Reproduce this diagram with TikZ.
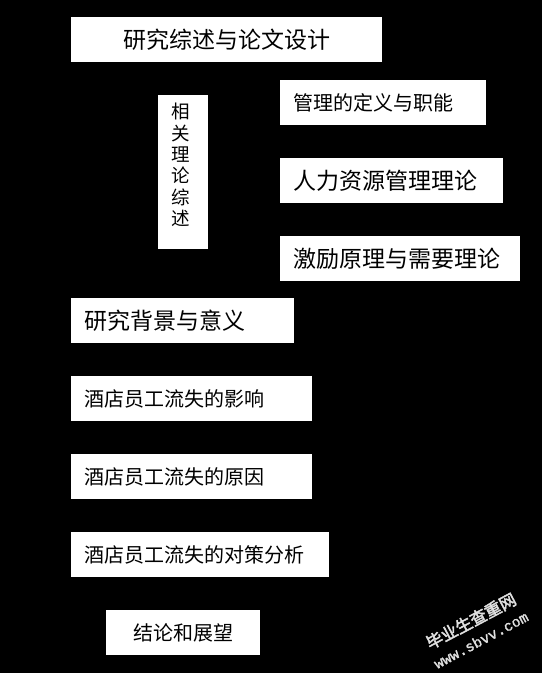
\documentclass[tikz,border=0pt]{standalone}
\usepackage{fontspec}
\newfontfamily\cjk{Noto Sans CJK SC}
\newfontfamily\cjkb[FakeBold=2.5]{Noto Sans CJK SC}
\newfontfamily\wmmono[FakeBold=1.5]{Liberation Mono}
\tikzset{
  box/.style={fill=white, draw=none, anchor=north west, inner ysep=0pt, text=black, minimum height=#1},
  box/.default=45pt,
  bigtxt/.style={font=\cjk\fontsize{23}{23}\selectfont},
  smalltxt/.style={font=\cjk\fontsize{20}{20}\selectfont},
  leftbox/.style 2 args={box=44.5pt, align=left, inner xsep=13.5pt, text width=#1-27pt, minimum width=#1, #2},
  wmark/.style={text=white!88!black, rotate=28}
}
\begin{document}
\begin{tikzpicture}[x=1pt,y=-1pt]
\useasboundingbox[fill=black] (0,0) rectangle (542,673);
% top title
\node[box=45pt, bigtxt, minimum width=311pt, align=center] (design) at (71,17) {研究综述与论文设计};
% vertical label box
\node[box=154pt, minimum width=50pt] (theorybox) at (158,95) {};
\node[font=\cjk\fontsize{18.5}{21.4}\selectfont, align=center, inner sep=0pt, text=black] (theory) at (180.5,165) {相\\关\\理\\论\\综\\述};
% theory boxes
\node[leftbox={206pt}{smalltxt}] (mgmt) at (280,80) {管理的定义与职能};
\node[leftbox={223pt}{bigtxt}] (hrm) at (280,158) {人力资源管理理论};
\node[leftbox={240pt}{bigtxt}] (motive) at (280,236) {激励原理与需要理论};
% main column
\node[leftbox={223pt}{bigtxt}] (bg) at (71,298) {研究背景与意义};
\node[leftbox={241pt}{smalltxt}] (effect) at (71,376) {酒店员工流失的影响};
\node[leftbox={241pt}{smalltxt}] (cause) at (71,454) {酒店员工流失的原因};
\node[leftbox={258pt}{smalltxt}] (measure) at (71,532) {酒店员工流失的对策分析};
\node[box=45pt, smalltxt, minimum width=154pt, align=center] (concl) at (106,610) {结论和展望};
% watermark
\node[wmark, font=\cjkb\fontsize{16.5}{16.5}\selectfont, inner sep=0pt] (wm1) at (471,621) {毕业生查重网};
\node[wmark, font=\wmmono\fontsize{14.5}{14.5}\selectfont, inner sep=0pt] (wm2) at (481,640) {www.sbvv.com};
\end{tikzpicture}
\end{document}
